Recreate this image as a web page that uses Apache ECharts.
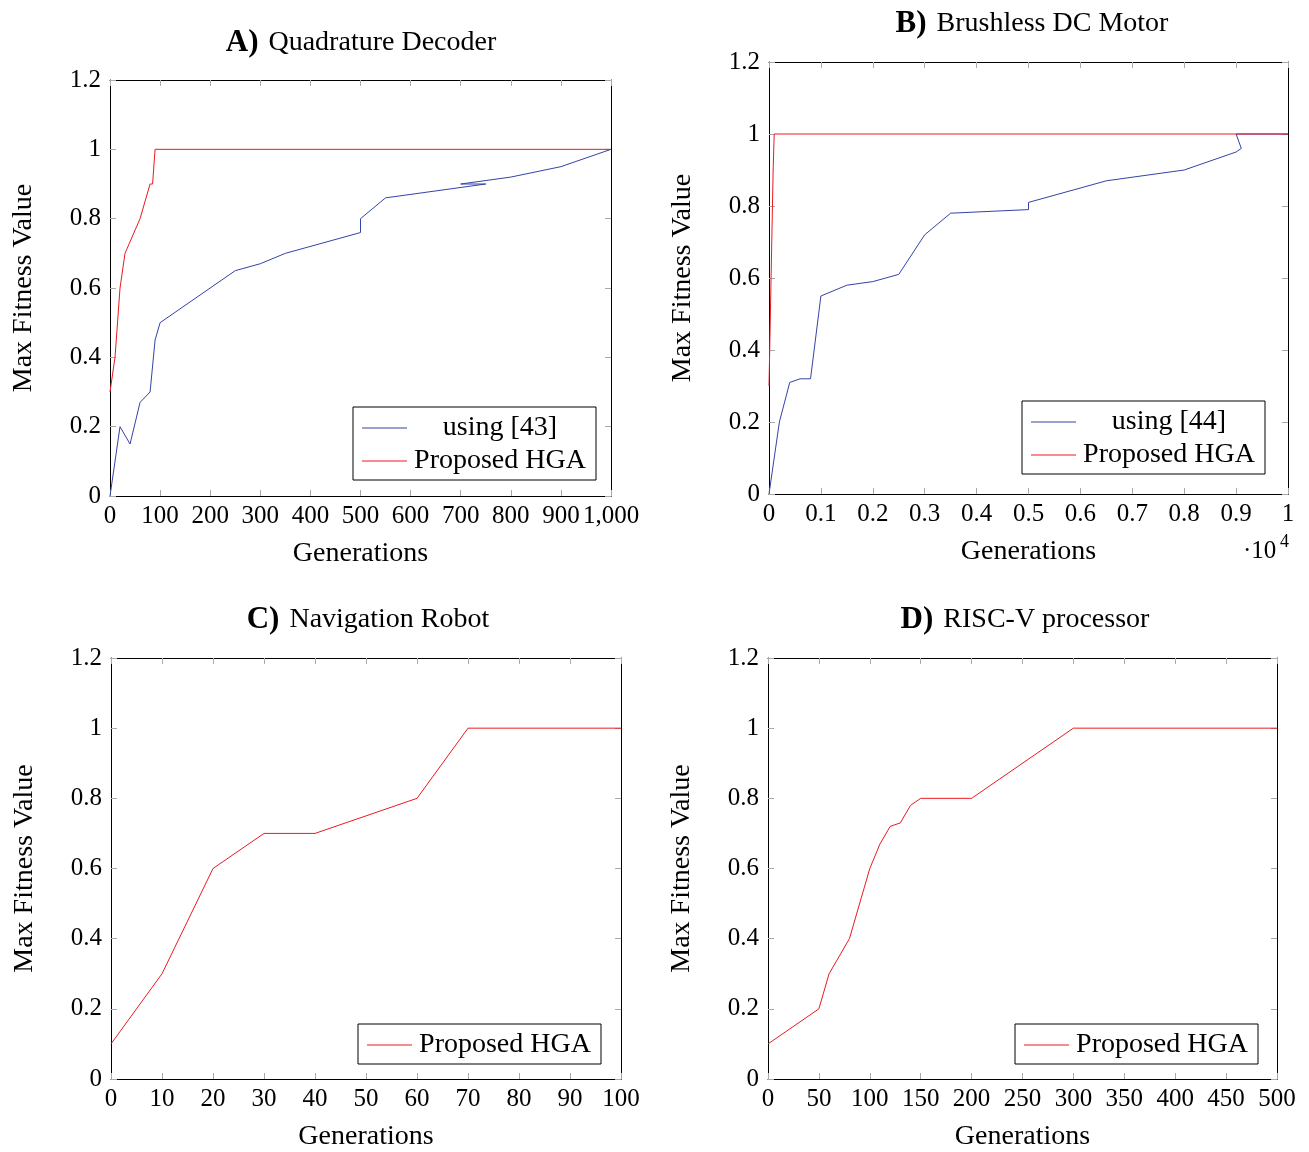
<!DOCTYPE html>
<html>
<head>
<meta charset="utf-8">
<script src="https://cdn.jsdelivr.net/npm/echarts@6/dist/echarts.min.js"></script>
<style>
html,body{margin:0;padding:0;background:#fff;}
#chart{width:1309px;height:1152px;}
</style>
</head>
<body>
<div id="chart"></div>
<script>
// ---- Data ----
// A) Quadrature Decoder
const aBaselineName = 'using [43]';
const aBaseline = [[0,0],[20,0.2],[40,0.15],[60,0.27],[80,0.3],[90,0.45],[100,0.5],[250,0.65],[300,0.67],[350,0.7],[500,0.76],[500,0.8],[550,0.86],[750,0.9],[700,0.9],[800,0.92],[900,0.95],[1000,1.0]];
const aHGA = [[0,0.3],[10,0.4],[20,0.6],[30,0.7],[60,0.8],[80,0.9],[85,0.9],[90,1.0],[1000,1.0]];
// B) Brushless DC Motor (generations)
const bBaselineName = 'using [44]';
const bBaseline = [[0,0],[200,0.2],[400,0.31],[600,0.32],[800,0.32],[1000,0.55],[1500,0.58],[2000,0.59],[2500,0.61],[3000,0.72],[3500,0.78],[5000,0.79],[5000,0.81],[6500,0.87],[8000,0.9],[9000,0.95],[9100,0.96],[9000,1.0],[10000,1.0]];
const bHGA = [[0,0.3],[40,0.6],[80,0.9],[100,1.0],[10000,1.0]];
// C) Navigation Robot
const cHGA = [[0,0.1],[10,0.3],[20,0.6],[30,0.7],[40,0.7],[60,0.8],[70,1.0],[100,1.0]];
// D) RISC-V processor
const dHGA = [[0,0.1],[50,0.2],[60,0.3],[80,0.4],[100,0.6],[110,0.67],[120,0.72],[130,0.73],[140,0.78],[150,0.8],[200,0.8],[300,1.0],[500,1.0]];

const hgaName = 'Proposed HGA';
const titles = [['A)','Quadrature Decoder'],['B)','Brushless DC Motor'],['C)','Navigation Robot'],['D)','RISC-V processor']];
const xRanges = [[0,1000,100],[0,10000,1000],[0,100,10],[0,500,50]];
const yRange = [0,1.2,0.2];
const xName = 'Generations';
const yName = 'Max Fitness Value';

// ---- Layout / styles ----
const FONT = '"Liberation Serif", "DejaVu Serif", serif';
const FS = 25;
const FN = 28;
const BLUE = '#3443a6';
const RED = '#ea1a22';
const grids = [
  {left:110, top:80, width:501, height:416},
  {left:769, top:62, width:519, height:432},
  {left:111, top:658, width:510, height:422},
  {left:768, top:658, width:509, height:423}
];
const titlePos = [[356,22],[1027,3],[363,599],[1020,599]];

const xAxes = [], yAxes = [];
grids.forEach((g, i) => {
  const [mn, mx, iv] = xRanges[i];
  const fmt = i === 1 ? (v => String(+(v/10000).toFixed(1))) :
              (v => v >= 1000 ? v.toLocaleString('en-US') : String(v));
  const common = {
    type:'value', gridIndex:i, min:mn, max:mx, interval:iv,
    splitLine:{show:false},
    axisLine:{show:true, onZero:false, lineStyle:{color:'#000', width:1}},
    axisTick:{show:true, inside:true, length:6, lineStyle:{color:'#aaa', width:1}}
  };
  xAxes.push(Object.assign({}, common, {
    position:'bottom',
    name:xName, nameLocation:'middle', nameGap:44,
    nameTextStyle:{fontFamily:FONT, fontSize:FN, color:'#000'},
    axisLabel:{show:true, interval:0, margin:8, fontFamily:FONT, fontSize:FS, color:'#000', formatter:fmt, hideOverlap:false}
  }));
  xAxes.push(Object.assign({}, common, {position:'top', axisLabel:{show:false}}));
  const ycommon = {
    type:'value', gridIndex:i, min:yRange[0], max:yRange[1], interval:yRange[2],
    splitLine:{show:false},
    axisLine:{show:true, onZero:false, lineStyle:{color:'#000', width:1}},
    axisTick:{show:true, inside:true, length:6, lineStyle:{color:'#aaa', width:1}}
  };
  yAxes.push(Object.assign({}, ycommon, {
    position:'left',
    name:yName, nameLocation:'middle', nameGap:72,
    nameTextStyle:{fontFamily:FONT, fontSize:FN, color:'#000'},
    axisLabel:{show:true, margin:9, fontFamily:FONT, fontSize:FS, color:'#000', formatter:v => String(+v.toFixed(1))}
  }));
  yAxes.push(Object.assign({}, ycommon, {position:'right', axisLabel:{show:false}}));
});

function line(name, data, color, gi){
  return {
    type:'line', name:name, data:data, xAxisIndex:2*gi, yAxisIndex:2*gi,
    symbol:'none', showSymbol:false, animation:false,
    lineStyle:{color:color, width:1}, itemStyle:{color:color}
  };
}
const series = [
  line(aBaselineName, aBaseline, BLUE, 0),
  line(hgaName, aHGA, RED, 0),
  line(bBaselineName, bBaseline, BLUE, 1),
  line(hgaName, bHGA, RED, 1),
  line(hgaName, cHGA, RED, 2),
  line(hgaName, dHGA, RED, 3)
];

function legend(names, left, top){
  return {
    data:names, orient:'vertical', left:left, top:top,
    icon:'rect', itemWidth:45, itemHeight:1, itemGap:3,
    padding:[6,8,4,9],
    borderColor:'#000', borderWidth:1, backgroundColor:'#fff',
    selectedMode:false,
    formatter: n => '{t|' + n + '}',
    textStyle:{fontFamily:FONT, fontSize:FN, color:'#000', lineHeight:30,
      rich:{t:{fontFamily:FONT, fontSize:FN, color:'#000', width:176, align:'center', lineHeight:30}}}
  };
}

const option = {
  backgroundColor:'#fff',
  animation:false,
  title: titles.map((t, i) => ({
    text:'{b|' + t[0] + '}{g| }{n|' + t[1] + '}',
    left:titlePos[i][0], top:titlePos[i][1], textAlign:'center',
    textStyle:{fontWeight:'normal', fontFamily:FONT, rich:{
      b:{fontFamily:FONT, fontSize:31, fontWeight:'bold', color:'#000'},
      g:{fontFamily:FONT, fontSize:28, width:10},
      n:{fontFamily:FONT, fontSize:28, fontWeight:'normal', color:'#000'}
    }}
  })),
  grid: grids,
  xAxis: xAxes,
  yAxis: yAxes,
  legend: [
    legend([aBaselineName, hgaName], 353, 407),
    legend([bBaselineName, hgaName], 1022, 401),
    legend([hgaName], 358, 1024),
    legend([hgaName], 1015, 1024)
  ],
  graphic: [
    {type:'text', left:1243, top:539, style:{text:'·10', fontFamily:FONT, fontSize:FS, fill:'#000'}},
    {type:'text', left:1280, top:533, style:{text:'4', fontFamily:FONT, fontSize:18, fill:'#000'}}
  ],
  series: series
};

const chart = echarts.init(document.getElementById('chart'), null, {renderer:'canvas'});
chart.setOption(option);
</script>
</body>
</html>
